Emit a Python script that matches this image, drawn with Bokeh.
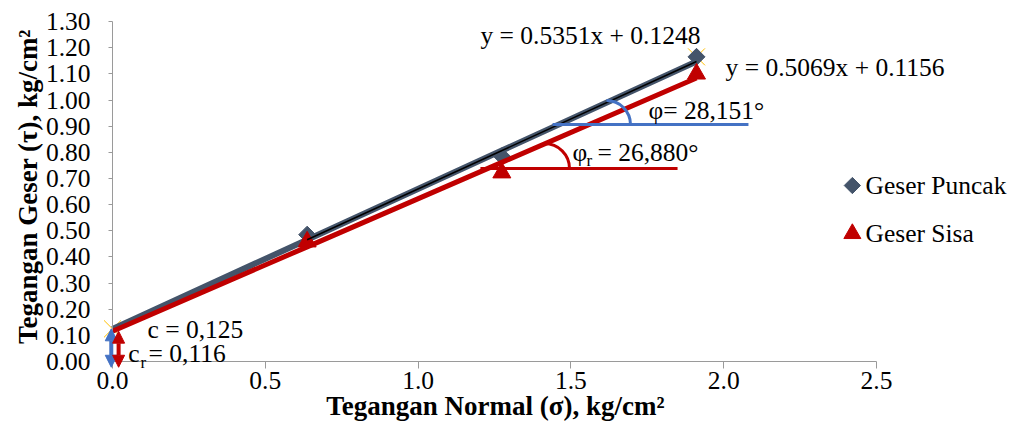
import math
from bokeh.plotting import figure
from bokeh.models import Range1d, FixedTicker, NumeralTickFormatter, Label, Arrow, NormalHead, LinearAxis
from bokeh.embed import file_html
from bokeh.resources import INLINE

# ---- data ----
sigma = [0.637, 1.274, 1.911]
tau_puncak = [0.485, 0.785, 1.165]
tau_sisa = [0.458, 0.722, 1.100]
slope_puncak, icpt_puncak = 0.5351, 0.1248
slope_sisa, icpt_sisa = 0.5069, 0.1156
c_text = "c = 0,125"
cr_value = "= 0,116"
phi_text = "φ= 28,151°"
phir_value = "= 26,880°"
eq_puncak = "y = 0.5351x + 0.1248"
eq_sisa = "y = 0.5069x + 0.1156"
x_ticks = [0.0, 0.5, 1.0, 1.5, 2.0, 2.5]
y_ticks = [0.0, 0.1, 0.2, 0.3, 0.4, 0.5, 0.6, 0.7, 0.8, 0.9, 1.0, 1.1, 1.2, 1.3]
series_names = ["Geser Puncak", "Geser Sisa"]
x_title = "Tegangan Normal (σ), kg/cm²"
y_title = "Tegangan Geser (τ), kg/cm²"

SLATE = "#44546A"
RED = "#C00000"
BLUE = "#4472C4"
GOLD = "#FFC000"
AXIS = "#9A9A9A"
FONT = "Liberation Serif"
FS = "25.5px"

# layout: frame covers the whole canvas, axes are fixed at 0
W, H = 1012, 422
X0, PXU = 112.0, 305.6   # pixel of x=0, pixels per unit
Y0, PYU = 361.0, 261.5   # pixel of y=0, pixels per unit

p = figure(width=W, height=H,
           x_range=Range1d(-X0 / PXU, (W - X0) / PXU),
           y_range=Range1d((Y0 - H) / PYU, Y0 / PYU),
           x_axis_type=None, y_axis_type=None,
           output_backend="svg", toolbar_location=None,
           min_border_left=0, min_border_right=0, min_border_top=0, min_border_bottom=0)
p.outline_line_color = None
p.background_fill_color = "white"

xaxis = LinearAxis(fixed_location=0, bounds=(0, 2.5), ticker=FixedTicker(ticks=x_ticks),
                   formatter=NumeralTickFormatter(format="0.0"))
yaxis = LinearAxis(fixed_location=0, bounds=(0, 1.3), ticker=FixedTicker(ticks=y_ticks),
                   formatter=NumeralTickFormatter(format="0.00"))
for ax in (xaxis, yaxis):
    ax.minor_tick_line_color = None
    ax.axis_line_color = AXIS
    ax.major_tick_line_color = AXIS
    ax.major_tick_in = 0
    ax.major_label_text_font = FONT
    ax.major_label_text_font_size = FS
    ax.major_label_text_color = "black"
xaxis.major_tick_out = 7
xaxis.major_label_standoff = 3
yaxis.major_tick_out = 4
yaxis.major_label_standoff = 18
p.add_layout(xaxis, "below")
p.add_layout(yaxis, "left")

# selection-like gold marks
p.scatter([0, sigma[-1]], [icpt_puncak, tau_puncak[-1]], marker="x", size=24,
          line_color=GOLD, line_width=1)

# thick slate line (peak)
p.line([0] + sigma, [icpt_puncak] + [icpt_puncak + slope_puncak * s for s in sigma],
       line_color=SLATE, line_width=6)
p.scatter(sigma, tau_puncak, marker="square", angle=math.pi / 4, size=12,
          fill_color=SLATE, line_color=SLATE)
# thick red line (residual)
p.line([0] + sigma, [icpt_sisa] + [icpt_sisa + slope_sisa * s for s in sigma],
       line_color=RED, line_width=5)
p.scatter(sigma, tau_sisa, marker="triangle", size=18, fill_color=RED, line_color=RED)
# black trendline over data range
p.line([sigma[0], sigma[-1]],
       [icpt_puncak + slope_puncak * sigma[0], icpt_puncak + slope_puncak * sigma[-1]],
       line_color="black", line_width=1.5)

# angle annotations
blue_y, red_y = 0.906, 0.738
p.line([1.44, 2.081], [blue_y, blue_y], line_color=BLUE, line_width=3)
p.line([1.204, 1.849], [red_y, red_y], line_color=RED, line_width=3)
p.arc(x=[1.6165], y=[blue_y], radius=24, radius_units="screen", start_angle=0,
      end_angle=math.pi / 2, line_color=BLUE, line_width=3)
p.arc(x=[1.4136], y=[red_y], radius=25, radius_units="screen", start_angle=0,
      end_angle=math.pi / 2, line_color=RED, line_width=3)

# cohesion arrows
for xa, ya, col in [(-0.004, 0.125, BLUE), (0.02, 0.116, RED)]:
    p.add_layout(Arrow(start=NormalHead(size=12, fill_color=col, line_color=col),
                       end=NormalHead(size=12, fill_color=col, line_color=col),
                       x_start=xa, y_start=-0.022, x_end=xa, y_end=ya,
                       line_color=col, line_width=4))


def lab(x, y, t, size=FS, bold=False, align="left", angle=0.0):
    p.add_layout(Label(x=x, y=y, text=t, text_font=FONT, text_font_size=size,
                       text_font_style="bold" if bold else "normal", angle=angle,
                       text_baseline="middle", text_align=align, text_color="black"))


lab(1.204, 1.247, eq_puncak)
lab(2.006, 1.124, eq_sisa)
lab(1.754, 0.960, phi_text)
lab(1.505, 0.799, "φ")
lab(1.551, 0.769, "r", "17px")
lab(1.587, 0.799, phir_value)
lab(0.1145, 0.1224, c_text)
lab(0.0514, 0.0306, "c")
lab(0.0916, -0.004, "r", "17px")
lab(0.118, 0.0306, cr_value)

# axis titles
lab(1.253, -0.171, x_title, "27px", bold=True, align="center")
lab(-0.278, 0.669, y_title, "27px", bold=True, align="center", angle=math.pi / 2)

# legend (manual)
p.scatter([2.421], [0.673], marker="square", angle=math.pi / 4, size=11.5,
          fill_color=SLATE, line_color=SLATE)
p.scatter([2.421], [0.489], marker="triangle", size=17, fill_color=RED, line_color=RED)
lab(2.464, 0.673, series_names[0])
lab(2.464, 0.489, series_names[1])

open("out.html", "w").write(file_html(p, INLINE))
